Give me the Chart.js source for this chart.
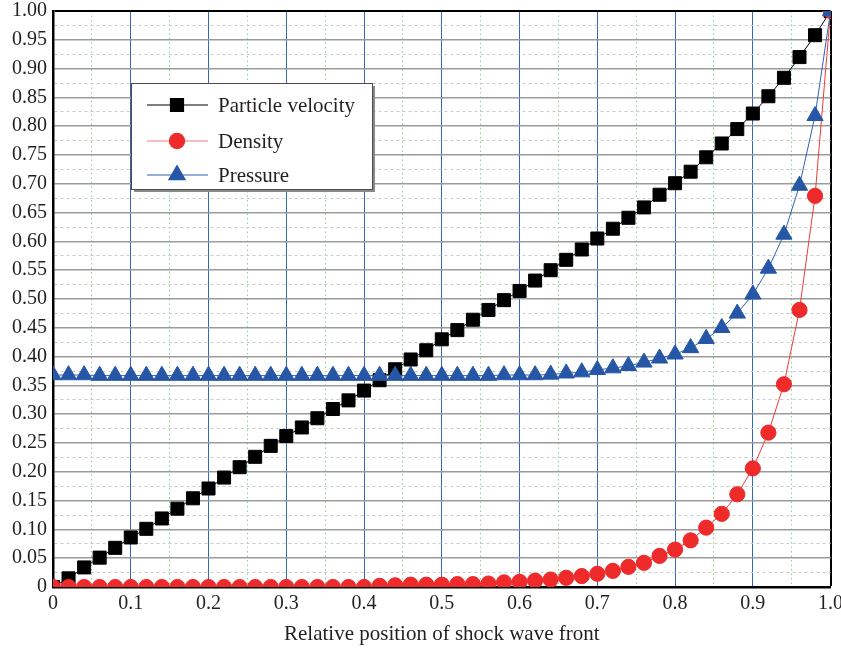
<!DOCTYPE html>
<html>
<head>
<meta charset="utf-8">
<title>Shock wave front</title>
<script src="https://cdn.jsdelivr.net/npm/chart.js@4/dist/chart.umd.min.js"></script>
<style>
    body { margin: 0; background: #fff; }
    #wrap { width: 841px; height: 654px; }
</style>
</head>
<body>
<div id="wrap"><canvas id="chart" width="841" height="654"></canvas></div>
<script>
// Relative position along the front
const positions = [
    0, 0.02, 0.04, 0.06, 0.08, 0.10, 0.12, 0.14, 0.16, 0.18,
    0.20, 0.22, 0.24, 0.26, 0.28, 0.30, 0.32, 0.34, 0.36, 0.38,
    0.40, 0.42, 0.44, 0.46, 0.48, 0.50, 0.52, 0.54, 0.56, 0.58,
    0.60, 0.62, 0.64, 0.66, 0.68, 0.70, 0.72, 0.74, 0.76, 0.78,
    0.80, 0.82, 0.84, 0.86, 0.88, 0.90, 0.92, 0.94, 0.96, 0.98,
    1.00
];

const velocity = [
    0.000, 0.015, 0.034, 0.051, 0.068, 0.086, 0.101, 0.119, 0.136, 0.154,
    0.171, 0.190, 0.208, 0.226, 0.245, 0.262, 0.277, 0.293, 0.309, 0.324,
    0.341, 0.359, 0.378, 0.395, 0.411, 0.430, 0.446, 0.464, 0.481, 0.498,
    0.514, 0.532, 0.550, 0.568, 0.586, 0.605, 0.622, 0.641, 0.659, 0.681,
    0.701, 0.721, 0.746, 0.770, 0.795, 0.822, 0.852, 0.884, 0.920, 0.958,
    1.000
];

const density = [
    0.000, 0.000, 0.000, 0.000, 0.000, 0.000, 0.000, 0.000, 0.000, 0.000,
    0.000, 0.000, 0.000, 0.000, 0.000, 0.000, 0.000, 0.000, 0.000, 0.000,
    0.000, 0.002, 0.003, 0.004, 0.004, 0.004, 0.005, 0.005, 0.006, 0.008,
    0.009, 0.011, 0.013, 0.016, 0.019, 0.023, 0.028, 0.035, 0.042, 0.054,
    0.065, 0.081, 0.103, 0.127, 0.161, 0.206, 0.268, 0.352, 0.481, 0.679,
    1.000
];

const pressure = [
    0.368, 0.368, 0.368, 0.367, 0.367, 0.367, 0.367, 0.367, 0.367, 0.367,
    0.367, 0.367, 0.367, 0.367, 0.367, 0.367, 0.367, 0.367, 0.367, 0.367,
    0.367, 0.367, 0.367, 0.367, 0.367, 0.367, 0.367, 0.367, 0.367, 0.368,
    0.368, 0.368, 0.369, 0.371, 0.373, 0.377, 0.380, 0.384, 0.390, 0.397,
    0.404, 0.415, 0.431, 0.450, 0.475, 0.508, 0.553, 0.612, 0.697, 0.818,
    1.000
];

const seriesNames = ['Particle velocity', 'Density', 'Pressure'];

const FONT = "'Liberation Serif', 'Times New Roman', serif";
const TEXT = '#231f20';

function points(values) {
    return positions.map((x, i) => ({ x: x, y: values[i] }));
}

// legend box drawn inside the plot, upper left
const boxLegend = {
    id: 'boxLegend',
    afterDraw(chart) {
        const ctx = chart.ctx;
        const x = 131, y = 83, w = 241, h = 106;
        ctx.save();
        ctx.fillStyle = '#8a8a8a';
        ctx.fillRect(x + 3, y + 3, w, h);
        ctx.fillStyle = '#fff';
        ctx.fillRect(x, y, w, h);
        ctx.strokeStyle = '#4a4a4a';
        ctx.lineWidth = 1;
        ctx.strokeRect(x + 0.5, y + 0.5, w, h);

        const rows = [105, 141, 175];
        chart.data.datasets.forEach((ds, i) => {
            const ry = rows[i];
            ctx.strokeStyle = ds.legendLine || ds.borderColor;
            ctx.lineWidth = 1.2;
            ctx.beginPath();
            ctx.moveTo(147, ry);
            ctx.lineTo(208, ry);
            ctx.stroke();
            ctx.fillStyle = ds.pointBackgroundColor;
            ctx.strokeStyle = ds.pointBorderColor;
            Chart.helpers.drawPoint(ctx, {
                pointStyle: ds.pointStyle,
                radius: ds.pointRadius,
                borderWidth: ds.pointBorderWidth,
                rotation: 0
            }, 177, ry);
            ctx.fillStyle = TEXT;
            ctx.font = '21px ' + FONT;
            ctx.textAlign = 'left';
            ctx.textBaseline = 'middle';
            ctx.fillText(ds.label, 218, ry + 1);
        });
        ctx.restore();
    }
};

const config = {
    type: 'line',
    data: {
        datasets: [{
            label: seriesNames[0],
            data: points(velocity),
            borderColor: '#000',
            borderWidth: 1,
            pointStyle: 'rect',
            pointRadius: 9.2,
            pointBackgroundColor: '#000',
            pointBorderColor: '#000',
            pointBorderWidth: 1,
            order: 3
        }, {
            label: seriesNames[1],
            data: points(density),
            borderColor: '#ef3a3a',
            legendLine: '#f27f7f',
            borderWidth: 1,
            pointStyle: 'circle',
            pointRadius: 7.6,
            pointBackgroundColor: '#ee2a2a',
            pointBorderColor: '#ee2a2a',
            pointBorderWidth: 1,
            order: 2
        }, {
            label: seriesNames[2],
            data: points(pressure),
            borderColor: '#2f62b4',
            borderWidth: 1,
            pointStyle: 'triangle',
            pointRadius: 9.4,
            pointBackgroundColor: '#2656a6',
            pointBorderColor: '#2656a6',
            pointBorderWidth: 1,
            order: 1
        }]
    },
    options: {
        responsive: false,
        animation: false,
        events: [],
        layout: { padding: { top: 11, right: 10, left: 0, bottom: 0 } },
        plugins: {
            legend: { display: false },
            tooltip: { enabled: false }
        },
        scales: {
            x: {
                type: 'linear',
                min: 0,
                max: 1,
                afterFit(scale) {
                    scale.height = 67;
                    scale.paddingLeft = 0;
                    scale.paddingRight = 0;
                },
                ticks: {
                    stepSize: 0.05,
                    maxTicksLimit: 100,
                    autoSkip: false,
                    maxRotation: 0,
                    padding: 5,
                    color: TEXT,
                    font: { family: FONT, size: 20 },
                    callback(value) {
                        const k = Math.round(value * 100);
                        if (k % 10 !== 0) return '';
                        if (k === 0) return '0';
                        return (k / 100).toFixed(1);
                    }
                },
                grid: {
                    drawTicks: false,
                    color(ctx) {
                        const k = Math.round(ctx.tick.value * 100);
                        if (k === 100) return '#000';
                        return k % 10 === 0 ? '#3566b8' : '#8fd08f';
                    },
                    lineWidth(ctx) {
                        const k = Math.round(ctx.tick.value * 100);
                        if (k === 100) return 2;
                        return 1;
                    }
                },
                border: {
                    color: '#000',
                    width: 2.5,
                    dash(ctx) {
                        if (!ctx.tick) return [];
                        const k = Math.round(ctx.tick.value * 100);
                        return (k % 10 === 0) ? [] : [1.5, 3];
                    }
                },
                title: {
                    display: true,
                    text: 'Relative position of shock wave front',
                    color: TEXT,
                    font: { family: FONT, size: 21 },
                    padding: { top: 0, bottom: 7 }
                }
            },
            y: {
                type: 'linear',
                min: 0,
                max: 1,
                afterFit(scale) {
                    scale.width = 53;
                    scale.paddingTop = 0;
                    scale.paddingBottom = 0;
                },
                ticks: {
                    stepSize: 0.025,
                    maxTicksLimit: 100,
                    autoSkip: false,
                    padding: 6,
                    color: TEXT,
                    font: { family: FONT, size: 20 },
                    callback(value) {
                        const k = Math.round(value * 1000);
                        if (k % 50 !== 0) return '';
                        if (k === 0) return '0';
                        return (k / 1000).toFixed(2);
                    }
                },
                grid: {
                    drawTicks: false,
                    color(ctx) {
                        const k = Math.round(ctx.tick.value * 1000);
                        if (k === 1000) return '#000';
                        return k % 50 === 0 ? '#9b9b9b' : '#cacaca';
                    },
                    lineWidth(ctx) {
                        const k = Math.round(ctx.tick.value * 1000);
                        if (k === 1000) return 2;
                        return k % 50 === 0 ? 1.6 : 1;
                    }
                },
                border: {
                    color: '#000',
                    width: 2.5,
                    dash(ctx) {
                        if (!ctx.tick) return [];
                        const k = Math.round(ctx.tick.value * 1000);
                        return (k % 50 === 0) ? [] : [3, 3];
                    }
                }
            }
        }
    },
    plugins: [boxLegend]
};

const chart = new Chart(document.getElementById('chart'), config);
</script>
</body>
</html>
